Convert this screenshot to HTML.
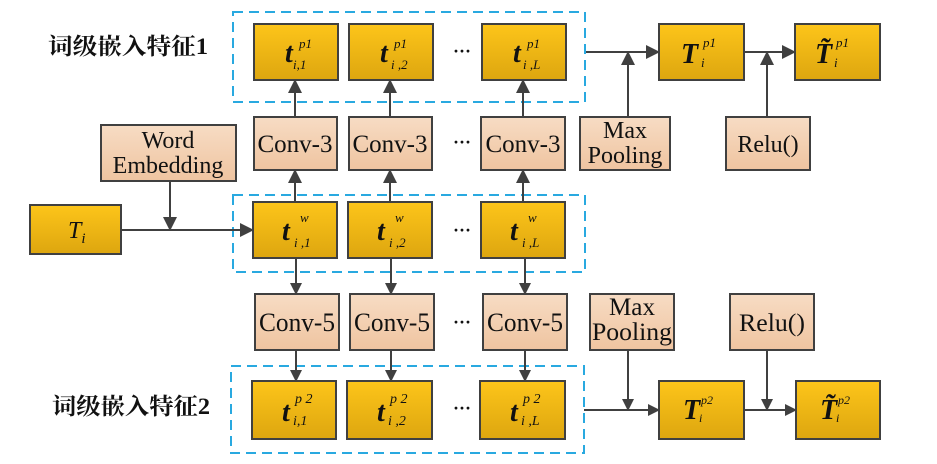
<!DOCTYPE html>
<html><head><meta charset="utf-8"><style>
html,body{margin:0;padding:0;background:#fff;}
svg{display:block}
</style></head><body>
<svg width="937" height="464" viewBox="0 0 937 464" xmlns="http://www.w3.org/2000/svg" font-family="Liberation Serif, serif">
<defs>
<linearGradient id="g" x1="0" y1="0" x2="0" y2="1"><stop offset="0" stop-color="#fdc51a"/><stop offset="1" stop-color="#dda60f"/></linearGradient>
<linearGradient id="p" x1="0" y1="0" x2="0" y2="1"><stop offset="0" stop-color="#f7dcc4"/><stop offset="1" stop-color="#efc4a0"/></linearGradient>
<marker id="a" markerWidth="12" markerHeight="12" refX="11" refY="6" orient="auto" markerUnits="userSpaceOnUse"><path d="M0,0 L12,6 L0,12 z" fill="#404040"/></marker>
<marker id="b" markerWidth="14" markerHeight="14" refX="13" refY="7" orient="auto" markerUnits="userSpaceOnUse"><path d="M0,0 L14,7 L0,14 z" fill="#404040"/></marker>
</defs>
<g fill="none" stroke="#29a9e0" stroke-width="2" stroke-dasharray="10,6">
<rect x="233" y="12" width="352" height="90"/>
<rect x="233" y="195" width="352" height="77"/>
<rect x="231" y="366" width="353" height="87"/>
</g>
<g stroke="#404040" stroke-width="2">
<g fill="url(#g)">
<rect x="254" y="24" width="84" height="56"/><rect x="349" y="24" width="84" height="56"/><rect x="482" y="24" width="84" height="56"/>
<rect x="659" y="24" width="85" height="56"/><rect x="795" y="24" width="85" height="56"/>
<rect x="30" y="205" width="91" height="49"/>
<rect x="253" y="202" width="84" height="56"/><rect x="348" y="202" width="84" height="56"/><rect x="481" y="202" width="84" height="56"/>
<rect x="252" y="381" width="84" height="58"/><rect x="347" y="381" width="85" height="58"/><rect x="480" y="381" width="85" height="58"/>
<rect x="659" y="381" width="85" height="58"/><rect x="796" y="381" width="84" height="58"/>
</g>
<g fill="url(#p)">
<rect x="254" y="117" width="83" height="53"/><rect x="349" y="117" width="83" height="53"/><rect x="481" y="117" width="84" height="53"/>
<rect x="580" y="117" width="90" height="53"/><rect x="726" y="117" width="84" height="53"/>
<rect x="101" y="125" width="135" height="56"/>
<rect x="255" y="294" width="84" height="56"/><rect x="350" y="294" width="84" height="56"/><rect x="483" y="294" width="84" height="56"/>
<rect x="590" y="294" width="84" height="56"/><rect x="730" y="294" width="84" height="56"/>
</g>
<g fill="none">
<line x1="295" y1="117" x2="295" y2="80" marker-end="url(#b)"/>
<line x1="390" y1="117" x2="390" y2="80" marker-end="url(#b)"/>
<line x1="523" y1="117" x2="523" y2="80" marker-end="url(#b)"/>
<line x1="295" y1="202" x2="295" y2="170" marker-end="url(#b)"/>
<line x1="390" y1="202" x2="390" y2="170" marker-end="url(#b)"/>
<line x1="523" y1="202" x2="523" y2="170" marker-end="url(#b)"/>
<line x1="586" y1="52" x2="659" y2="52" marker-end="url(#b)"/>
<line x1="628" y1="117" x2="628" y2="52" marker-end="url(#b)"/>
<line x1="744" y1="52" x2="795" y2="52" marker-end="url(#b)"/>
<line x1="767" y1="117" x2="767" y2="52" marker-end="url(#b)"/>
<line x1="121" y1="230" x2="253" y2="230" marker-end="url(#b)"/>
<line x1="170" y1="181" x2="170" y2="230" marker-end="url(#b)"/>
<line x1="296" y1="258" x2="296" y2="294" marker-end="url(#a)"/>
<line x1="391" y1="258" x2="391" y2="294" marker-end="url(#a)"/>
<line x1="525" y1="258" x2="525" y2="294" marker-end="url(#a)"/>
<line x1="296" y1="350" x2="296" y2="381" marker-end="url(#a)"/>
<line x1="391" y1="350" x2="391" y2="381" marker-end="url(#a)"/>
<line x1="525" y1="350" x2="525" y2="381" marker-end="url(#a)"/>
<line x1="584" y1="410" x2="659" y2="410" marker-end="url(#a)"/>
<line x1="628" y1="350" x2="628" y2="410" marker-end="url(#a)"/>
<line x1="744" y1="410" x2="796" y2="410" marker-end="url(#a)"/>
<line x1="767" y1="350" x2="767" y2="410" marker-end="url(#a)"/>
</g>
</g>
<g font-family="Liberation Serif, Noto Serif CJK SC, serif" font-weight="bold" font-size="23" fill="#111">
<text x="48" y="54" textLength="160" lengthAdjust="spacingAndGlyphs">词级嵌入特征1</text>
<text x="52" y="414" textLength="158" lengthAdjust="spacingAndGlyphs">词级嵌入特征2</text>
</g>
<g font-size="25" fill="#111" text-anchor="middle">
<text x="295" y="152">Conv-3</text><text x="390" y="152">Conv-3</text><text x="523" y="152">Conv-3</text>
<text x="625" y="138" font-size="24">Max</text><text x="625" y="163" font-size="24">Pooling</text>
<text x="768" y="152" font-size="24">Relu()</text>
<text x="168" y="148" font-size="24">Word</text><text x="168" y="173" font-size="24">Embedding</text>
<text x="297" y="331" font-size="26" textLength="76" lengthAdjust="spacingAndGlyphs">Conv-5</text><text x="392" y="331" font-size="26" textLength="76" lengthAdjust="spacingAndGlyphs">Conv-5</text><text x="525" y="331" font-size="26" textLength="76" lengthAdjust="spacingAndGlyphs">Conv-5</text>
<text x="632" y="315" font-size="25" textLength="46" lengthAdjust="spacingAndGlyphs">Max</text><text x="632" y="340" font-size="25" textLength="80" lengthAdjust="spacingAndGlyphs">Pooling</text>
<text x="772" y="331" font-size="25" textLength="66" lengthAdjust="spacingAndGlyphs">Relu()</text>
<text x="462" y="57" font-weight="bold" font-size="18">···</text>
<text x="462" y="148" font-weight="bold" font-size="18">···</text>
<text x="462" y="236" font-weight="bold" font-size="18">···</text>
<text x="462" y="328" font-weight="bold" font-size="18">···</text>
<text x="462" y="414" font-weight="bold" font-size="18">···</text>
</g>
<g fill="#111" font-style="italic">
<text x="68" y="238" font-size="24">T<tspan font-size="15" dy="5">i</tspan></text>
<g font-size="28" font-weight="bold"><text x="285" y="62">t</text><text x="380" y="62">t</text><text x="513" y="62">t</text>
<text x="681" y="63">T</text><text x="815" y="63">T̃</text></g>
<g font-size="13"><text x="299" y="48">p1</text><text x="293" y="69">i,1</text>
<text x="394" y="48">p1</text><text x="391" y="69">i ,2</text>
<text x="527" y="48">p1</text><text x="523" y="69">i ,L</text>
<text x="703" y="47">p1</text><text x="701" y="67">i</text>
<text x="836" y="47">p1</text><text x="834" y="67">i</text></g>
<g font-size="28" font-weight="bold"><text x="282" y="240">t</text><text x="377" y="240">t</text><text x="510" y="240">t</text></g>
<g font-size="13"><text x="300" y="222">w</text><text x="294" y="247">i ,1</text>
<text x="395" y="222">w</text><text x="389" y="247">i ,2</text>
<text x="528" y="222">w</text><text x="522" y="247">i ,L</text></g>
<g font-size="28" font-weight="bold"><text x="282" y="421">t</text><text x="377" y="421">t</text><text x="510" y="421">t</text>
<text x="683" y="419">T</text><text x="820" y="419">T̃</text></g>
<g font-size="14"><text x="295" y="403">p 2</text><text x="293" y="425">i,1</text>
<text x="390" y="403">p 2</text><text x="388" y="425">i ,2</text>
<text x="523" y="403">p 2</text><text x="521" y="425">i ,L</text>
<text x="701" y="404" font-size="12">p2</text><text x="699" y="422" font-size="12">i</text>
<text x="838" y="404" font-size="12">p2</text><text x="836" y="422" font-size="12">i</text></g>
</g>
</svg>
</body></html>
